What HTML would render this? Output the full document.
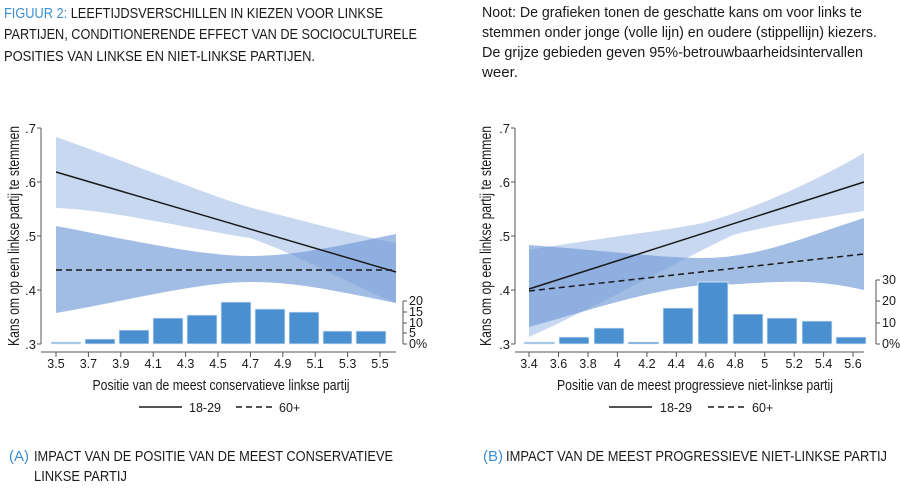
<!DOCTYPE html>
<html><head><meta charset="utf-8"><style>
html,body{margin:0;padding:0;background:#fff;}
svg{display:block;}
text{font-family:"Liberation Sans",sans-serif;fill:#1a1a1a;}
text.blue{fill:#3e8fd1;}
</style></head><body>
<svg width="900" height="497" viewBox="0 0 900 497" xmlns="http://www.w3.org/2000/svg">
<!-- header -->
<g font-size="15">
<text x="4" y="18" textLength="379" lengthAdjust="spacingAndGlyphs"><tspan style="fill:#3e8fd1">FIGUUR 2:</tspan> LEEFTIJDSVERSCHILLEN IN KIEZEN VOOR LINKSE</text>
<text x="4" y="39" textLength="413" lengthAdjust="spacingAndGlyphs">PARTIJEN, CONDITIONERENDE EFFECT VAN DE SOCIOCULTURELE</text>
<text x="4" y="61" textLength="311" lengthAdjust="spacingAndGlyphs">POSITIES VAN LINKSE EN NIET-LINKSE PARTIJEN.</text>
</g>
<g font-size="15">
<text x="482" y="17" textLength="380" lengthAdjust="spacingAndGlyphs">Noot: De grafieken tonen de geschatte kans om voor links te</text>
<text x="482" y="37" textLength="395" lengthAdjust="spacingAndGlyphs">stemmen onder jonge (volle lijn) en oudere (stippellijn) kiezers.</text>
<text x="482" y="57" textLength="381" lengthAdjust="spacingAndGlyphs">De grijze gebieden geven 95%-betrouwbaarheidsintervallen</text>
<text x="482" y="77" textLength="36" lengthAdjust="spacingAndGlyphs">weer.</text>
</g>

<!-- LEFT CHART -->
<g>
<path d="M56,137 C150,170 220,200 260,210 C320,225 360,236 396,243 L396,303 C350,285 300,255 250,238 C170,225 110,210 56,208 Z" fill="#c8d8f0"/>
<path d="M56,226 C130,240 200,256 250,256 C300,256 350,243 396,234 L396,303 C340,292 300,282 250,282 C200,282 130,300 56,313 Z" fill="#6f9ad6" fill-opacity="0.65"/>
<line x1="56" y1="172" x2="396" y2="272" stroke="#1a1a1a" stroke-width="1.5"/>
<line x1="56" y1="270" x2="396" y2="270" stroke="#1a1a1a" stroke-width="1.5" stroke-dasharray="6,4"/>
<g fill="#4a90d0" stroke="#e6eef8" stroke-width="0.8">
<rect x="51" y="342" width="30" height="2" fill="#7fb0e0"/>
<rect x="85" y="339" width="30" height="5"/>
<rect x="119" y="330" width="30" height="14"/>
<rect x="153" y="318" width="30" height="26"/>
<rect x="187" y="315" width="30" height="29"/>
<rect x="221" y="302" width="30" height="42"/>
<rect x="255" y="309" width="30" height="35"/>
<rect x="289" y="312" width="30" height="32"/>
<rect x="323" y="331" width="29" height="13"/>
<rect x="356" y="331" width="30" height="13"/>
</g>
<g stroke="#555" stroke-width="1" fill="none">
<line x1="41" y1="128" x2="41" y2="344"/>
<path d="M37,128h4M37,182h4M37,236h4M37,290h4M37,344h4"/>
<line x1="41" y1="352" x2="396" y2="352"/>
<path d="M56,352v5M88.4,352v5M120.8,352v5M153.2,352v5M185.6,352v5M218,352v5M250.4,352v5M282.8,352v5M315.2,352v5M347.6,352v5M380,352v5"/>
<line x1="403" y1="301" x2="403" y2="344"/>
<path d="M403,301h4M403,312h4M403,323h4M403,333h4M403,344h4"/>
</g>
<g font-size="13" text-anchor="end">
<text x="36" y="133">.7</text><text x="36" y="187">.6</text><text x="36" y="241">.5</text><text x="36" y="295">.4</text><text x="36" y="349">.3</text>
</g>
<g font-size="12.5" text-anchor="middle">
<text x="56" y="368">3.5</text><text x="88.4" y="368">3.7</text><text x="120.8" y="368">3.9</text><text x="153.2" y="368">4.1</text><text x="185.6" y="368">4.3</text><text x="218" y="368">4.5</text><text x="250.4" y="368">4.7</text><text x="282.8" y="368">4.9</text><text x="315.2" y="368">5.1</text><text x="347.6" y="368">5.3</text><text x="380" y="368">5.5</text>
</g>
<g font-size="12.5">
<text x="409" y="305">20</text><text x="409" y="316">15</text><text x="409" y="327">10</text><text x="409" y="337">5</text><text x="409" y="348">0%</text>
</g>
<text x="221" y="390" font-size="15" text-anchor="middle" textLength="257" lengthAdjust="spacingAndGlyphs">Positie van de meest conservatieve linkse partij</text>
<text transform="translate(19,236) rotate(-90)" font-size="16" text-anchor="middle" textLength="220" lengthAdjust="spacingAndGlyphs">Kans om op een linkse partij te stemmen</text>
<line x1="139" y1="407" x2="182" y2="407" stroke="#1a1a1a" stroke-width="1.5"/>
<text x="189" y="412" font-size="12.5">18-29</text>
<line x1="236" y1="407" x2="273" y2="407" stroke="#1a1a1a" stroke-width="1.5" stroke-dasharray="6,4"/>
<text x="279" y="412" font-size="12.5">60+</text>
<text class="blue" x="9" y="461" font-size="15">(A)</text>
<text x="34" y="461" font-size="15" textLength="359" lengthAdjust="spacingAndGlyphs">IMPACT VAN DE POSITIE VAN DE MEEST CONSERVATIEVE</text>
<text x="34" y="481" font-size="15" textLength="93" lengthAdjust="spacingAndGlyphs">LINKSE PARTIJ</text>
</g>

<!-- RIGHT CHART -->
<g>
<path d="M529,250 C600,238 670,230 703,223 C740,213 800,190 864,153 L864,211 C820,218 770,225 733,235 C690,255 600,305 529,337 Z" fill="#c8d8f0"/>
<path d="M529,245 C600,250 660,258 703,258 C760,258 810,235 864,218 L864,290 C800,275 760,285 703,285 C650,290 590,310 529,327 Z" fill="#6f9ad6" fill-opacity="0.65"/>
<line x1="529" y1="289" x2="864" y2="182" stroke="#1a1a1a" stroke-width="1.5"/>
<line x1="529" y1="291" x2="864" y2="254" stroke="#1a1a1a" stroke-width="1.5" stroke-dasharray="6,4"/>
<g fill="#4a90d0" stroke="#e6eef8" stroke-width="0.8">
<rect x="524" y="342" width="31" height="2" fill="#7fb0e0"/>
<rect x="559" y="337" width="30" height="7"/>
<rect x="594" y="328" width="30" height="16"/>
<rect x="628" y="342" width="31" height="2"/>
<rect x="663" y="308" width="30" height="36"/>
<rect x="698" y="282" width="30" height="62"/>
<rect x="733" y="314" width="30" height="30"/>
<rect x="767" y="318" width="30" height="26"/>
<rect x="802" y="321" width="30" height="23"/>
<rect x="836" y="337" width="30" height="7"/>
</g>
<g stroke="#555" stroke-width="1" fill="none">
<line x1="515" y1="128" x2="515" y2="344"/>
<path d="M511,128h4M511,182h4M511,236h4M511,290h4M511,344h4"/>
<line x1="515" y1="352" x2="864" y2="352"/>
<path d="M529,352v5M558.5,352v5M588,352v5M617.4,352v5M646.9,352v5M676.3,352v5M705.8,352v5M735.2,352v5M764.7,352v5M794.2,352v5M823.6,352v5M853,352v5"/>
<line x1="876" y1="280" x2="876" y2="344"/>
<path d="M876,280h4M876,301h4M876,323h4M876,344h4"/>
</g>
<g font-size="13" text-anchor="end">
<text x="510" y="133">.7</text><text x="510" y="187">.6</text><text x="510" y="241">.5</text><text x="510" y="295">.4</text><text x="510" y="349">.3</text>
</g>
<g font-size="12.5" text-anchor="middle">
<text x="529" y="368">3.4</text><text x="558.5" y="368">3.6</text><text x="588" y="368">3.8</text><text x="617.4" y="368">4</text><text x="646.9" y="368">4.2</text><text x="676.3" y="368">4.4</text><text x="705.8" y="368">4.6</text><text x="735.2" y="368">4.8</text><text x="764.7" y="368">5</text><text x="794.2" y="368">5.2</text><text x="823.6" y="368">5.4</text><text x="853" y="368">5.6</text>
</g>
<g font-size="12.5">
<text x="882" y="284">30</text><text x="882" y="305">20</text><text x="882" y="327">10</text><text x="882" y="348">0%</text>
</g>
<text x="695" y="390" font-size="15" text-anchor="middle" textLength="276" lengthAdjust="spacingAndGlyphs">Positie van de meest progressieve niet-linkse partij</text>
<text transform="translate(491,236) rotate(-90)" font-size="16" text-anchor="middle" textLength="220" lengthAdjust="spacingAndGlyphs">Kans om op een linkse partij te stemmen</text>
<line x1="609" y1="407" x2="652" y2="407" stroke="#1a1a1a" stroke-width="1.5"/>
<text x="660" y="412" font-size="12.5">18-29</text>
<line x1="708" y1="407" x2="745" y2="407" stroke="#1a1a1a" stroke-width="1.5" stroke-dasharray="6,4"/>
<text x="752" y="412" font-size="12.5">60+</text>
<text class="blue" x="483" y="461" font-size="15">(B)</text>
<text x="506" y="461" font-size="15" textLength="381" lengthAdjust="spacingAndGlyphs">IMPACT VAN DE MEEST PROGRESSIEVE NIET-LINKSE PARTIJ</text>
</g>
</svg>
</body></html>
